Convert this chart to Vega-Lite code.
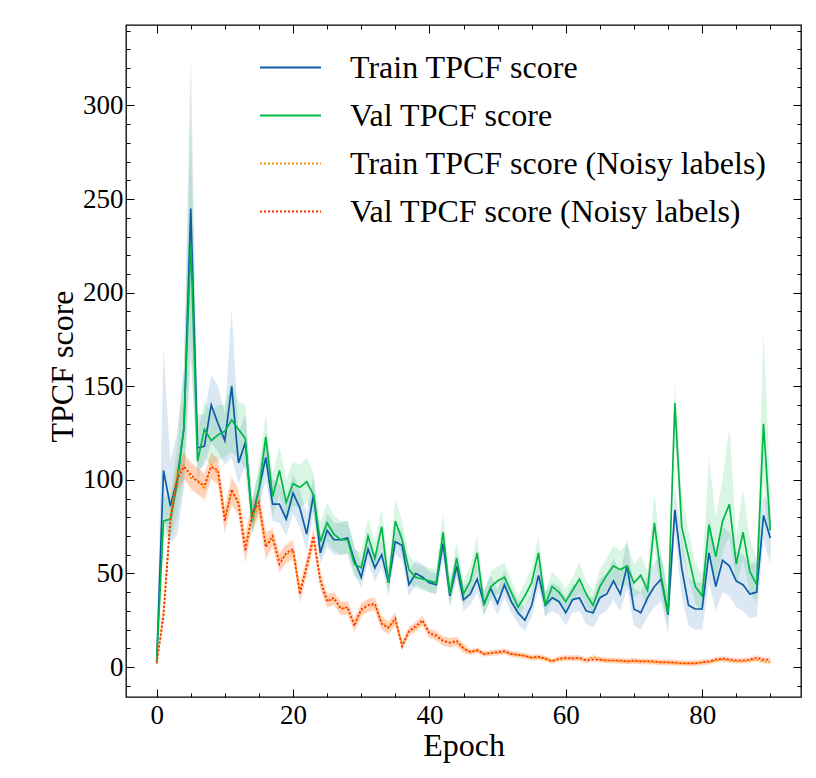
{
"$schema": "https://vega.github.io/schema/vega-lite/v6.json",
"width": 675, "height": 672,
"autosize": {"type": "none"},
"padding": {"left": 126, "top": 25, "right": 15, "bottom": 81},
"background": "white",
"config": {
  "view": {"stroke": "#000", "strokeWidth": 1.3},
  "font": "Liberation Serif",
  "axis": {"grid": false, "domain": false, "tickColor": "#000", "tickWidth": 1, "labelColor": "#000", "titleColor": "#000", "labelFont": "Liberation Serif", "titleFont": "Liberation Serif", "labelFontSize": 27, "titleFontSize": 32, "titleFontWeight": "normal", "labelOverlap": false, "labelFlush": false, "labelBound": false}
},
"data": {"values": [
{"epoch":0,"series":"T","score":3,"lo":1,"hi":5},
{"epoch":1,"series":"T","score":105,"lo":80,"hi":170},
{"epoch":2,"series":"T","score":86,"lo":66,"hi":110},
{"epoch":3,"series":"T","score":100,"lo":70,"hi":125},
{"epoch":4,"series":"T","score":128,"lo":95,"hi":160},
{"epoch":5,"series":"T","score":245,"lo":165,"hi":327},
{"epoch":6,"series":"T","score":117,"lo":105,"hi":135},
{"epoch":7,"series":"T","score":118,"lo":108,"hi":135},
{"epoch":8,"series":"T","score":140,"lo":120,"hi":156},
{"epoch":9,"series":"T","score":130,"lo":115,"hi":150},
{"epoch":10,"series":"T","score":121,"lo":108,"hi":135},
{"epoch":11,"series":"T","score":150,"lo":112,"hi":192},
{"epoch":12,"series":"T","score":109,"lo":98,"hi":125},
{"epoch":13,"series":"T","score":120,"lo":108,"hi":135},
{"epoch":14,"series":"T","score":80,"lo":72,"hi":90},
{"epoch":15,"series":"T","score":95,"lo":85,"hi":105},
{"epoch":16,"series":"T","score":112,"lo":100,"hi":125},
{"epoch":17,"series":"T","score":87,"lo":78,"hi":100},
{"epoch":18,"series":"T","score":87,"lo":77,"hi":98},
{"epoch":19,"series":"T","score":79,"lo":70,"hi":90},
{"epoch":20,"series":"T","score":93,"lo":82,"hi":103},
{"epoch":21,"series":"T","score":85,"lo":75,"hi":95},
{"epoch":22,"series":"T","score":71,"lo":62,"hi":82},
{"epoch":23,"series":"T","score":92,"lo":82,"hi":102},
{"epoch":24,"series":"T","score":61,"lo":55,"hi":70},
{"epoch":25,"series":"T","score":73,"lo":64,"hi":82},
{"epoch":26,"series":"T","score":68,"lo":60,"hi":77},
{"epoch":27,"series":"T","score":68,"lo":60,"hi":77},
{"epoch":28,"series":"T","score":69,"lo":61,"hi":78},
{"epoch":29,"series":"T","score":57,"lo":50,"hi":65},
{"epoch":30,"series":"T","score":48,"lo":42,"hi":56},
{"epoch":31,"series":"T","score":63,"lo":56,"hi":70},
{"epoch":32,"series":"T","score":53,"lo":46,"hi":60},
{"epoch":33,"series":"T","score":60,"lo":53,"hi":67},
{"epoch":34,"series":"T","score":45,"lo":39,"hi":52},
{"epoch":35,"series":"T","score":67,"lo":60,"hi":75},
{"epoch":36,"series":"T","score":65,"lo":57,"hi":73},
{"epoch":37,"series":"T","score":44,"lo":38,"hi":51},
{"epoch":38,"series":"T","score":50,"lo":44,"hi":57},
{"epoch":39,"series":"T","score":48,"lo":42,"hi":55},
{"epoch":40,"series":"T","score":45,"lo":40,"hi":51},
{"epoch":41,"series":"T","score":44,"lo":39,"hi":50},
{"epoch":42,"series":"T","score":66,"lo":58,"hi":74},
{"epoch":43,"series":"T","score":38,"lo":32,"hi":45},
{"epoch":44,"series":"T","score":54,"lo":47,"hi":61},
{"epoch":45,"series":"T","score":36,"lo":30,"hi":43},
{"epoch":46,"series":"T","score":39,"lo":33,"hi":46},
{"epoch":47,"series":"T","score":47,"lo":40,"hi":55},
{"epoch":48,"series":"T","score":34,"lo":28,"hi":41},
{"epoch":49,"series":"T","score":42,"lo":36,"hi":49},
{"epoch":50,"series":"T","score":34,"lo":28,"hi":41},
{"epoch":51,"series":"T","score":44,"lo":37,"hi":52},
{"epoch":52,"series":"T","score":35,"lo":29,"hi":42},
{"epoch":53,"series":"T","score":29,"lo":23,"hi":36},
{"epoch":54,"series":"T","score":25,"lo":19,"hi":32},
{"epoch":55,"series":"T","score":33,"lo":27,"hi":40},
{"epoch":56,"series":"T","score":49,"lo":42,"hi":57},
{"epoch":57,"series":"T","score":33,"lo":27,"hi":40},
{"epoch":58,"series":"T","score":37,"lo":30,"hi":45},
{"epoch":59,"series":"T","score":35,"lo":28,"hi":43},
{"epoch":60,"series":"T","score":29,"lo":22,"hi":37},
{"epoch":61,"series":"T","score":36,"lo":29,"hi":44},
{"epoch":62,"series":"T","score":37,"lo":30,"hi":45},
{"epoch":63,"series":"T","score":30,"lo":23,"hi":38},
{"epoch":64,"series":"T","score":29,"lo":21,"hi":37},
{"epoch":65,"series":"T","score":37,"lo":28,"hi":47},
{"epoch":66,"series":"T","score":39,"lo":30,"hi":50},
{"epoch":67,"series":"T","score":46,"lo":36,"hi":58},
{"epoch":68,"series":"T","score":39,"lo":30,"hi":50},
{"epoch":69,"series":"T","score":54,"lo":42,"hi":68},
{"epoch":70,"series":"T","score":31,"lo":22,"hi":42},
{"epoch":71,"series":"T","score":29,"lo":20,"hi":40},
{"epoch":72,"series":"T","score":37,"lo":27,"hi":48},
{"epoch":73,"series":"T","score":43,"lo":32,"hi":56},
{"epoch":74,"series":"T","score":47,"lo":35,"hi":60},
{"epoch":75,"series":"T","score":28,"lo":18,"hi":40},
{"epoch":76,"series":"T","score":84,"lo":72,"hi":95},
{"epoch":77,"series":"T","score":53,"lo":38,"hi":70},
{"epoch":78,"series":"T","score":33,"lo":22,"hi":48},
{"epoch":79,"series":"T","score":31,"lo":20,"hi":45},
{"epoch":80,"series":"T","score":31,"lo":20,"hi":45},
{"epoch":81,"series":"T","score":61,"lo":45,"hi":80},
{"epoch":82,"series":"T","score":43,"lo":30,"hi":60},
{"epoch":83,"series":"T","score":57,"lo":40,"hi":75},
{"epoch":84,"series":"T","score":54,"lo":38,"hi":72},
{"epoch":85,"series":"T","score":46,"lo":32,"hi":62},
{"epoch":86,"series":"T","score":44,"lo":30,"hi":60},
{"epoch":87,"series":"T","score":39,"lo":26,"hi":55},
{"epoch":88,"series":"T","score":40,"lo":27,"hi":56},
{"epoch":89,"series":"T","score":81,"lo":68,"hi":92},
{"epoch":90,"series":"T","score":69,"lo":55,"hi":85},
{"epoch":0,"series":"V","score":3,"lo":1,"hi":5},
{"epoch":1,"series":"V","score":78,"lo":70,"hi":90},
{"epoch":2,"series":"V","score":79,"lo":68,"hi":92},
{"epoch":3,"series":"V","score":98,"lo":80,"hi":118},
{"epoch":4,"series":"V","score":128,"lo":100,"hi":160},
{"epoch":5,"series":"V","score":226,"lo":175,"hi":290},
{"epoch":6,"series":"V","score":110,"lo":98,"hi":125},
{"epoch":7,"series":"V","score":127,"lo":112,"hi":142},
{"epoch":8,"series":"V","score":121,"lo":108,"hi":136},
{"epoch":9,"series":"V","score":124,"lo":110,"hi":140},
{"epoch":10,"series":"V","score":126,"lo":112,"hi":140},
{"epoch":11,"series":"V","score":132,"lo":115,"hi":152},
{"epoch":12,"series":"V","score":127,"lo":112,"hi":142},
{"epoch":13,"series":"V","score":122,"lo":105,"hi":140},
{"epoch":14,"series":"V","score":78,"lo":70,"hi":88},
{"epoch":15,"series":"V","score":95,"lo":85,"hi":108},
{"epoch":16,"series":"V","score":123,"lo":110,"hi":135},
{"epoch":17,"series":"V","score":91,"lo":80,"hi":103},
{"epoch":18,"series":"V","score":105,"lo":92,"hi":118},
{"epoch":19,"series":"V","score":88,"lo":78,"hi":100},
{"epoch":20,"series":"V","score":98,"lo":86,"hi":110},
{"epoch":21,"series":"V","score":96,"lo":85,"hi":108},
{"epoch":22,"series":"V","score":99,"lo":88,"hi":112},
{"epoch":23,"series":"V","score":92,"lo":82,"hi":104},
{"epoch":24,"series":"V","score":67,"lo":58,"hi":77},
{"epoch":25,"series":"V","score":77,"lo":67,"hi":88},
{"epoch":26,"series":"V","score":71,"lo":62,"hi":81},
{"epoch":27,"series":"V","score":68,"lo":60,"hi":78},
{"epoch":28,"series":"V","score":68,"lo":60,"hi":78},
{"epoch":29,"series":"V","score":55,"lo":48,"hi":63},
{"epoch":30,"series":"V","score":53,"lo":46,"hi":61},
{"epoch":31,"series":"V","score":70,"lo":62,"hi":80},
{"epoch":32,"series":"V","score":58,"lo":50,"hi":67},
{"epoch":33,"series":"V","score":75,"lo":66,"hi":85},
{"epoch":34,"series":"V","score":45,"lo":38,"hi":53},
{"epoch":35,"series":"V","score":78,"lo":68,"hi":90},
{"epoch":36,"series":"V","score":68,"lo":60,"hi":78},
{"epoch":37,"series":"V","score":52,"lo":45,"hi":60},
{"epoch":38,"series":"V","score":48,"lo":42,"hi":55},
{"epoch":39,"series":"V","score":47,"lo":41,"hi":54},
{"epoch":40,"series":"V","score":46,"lo":40,"hi":53},
{"epoch":41,"series":"V","score":45,"lo":39,"hi":52},
{"epoch":42,"series":"V","score":72,"lo":63,"hi":82},
{"epoch":43,"series":"V","score":39,"lo":33,"hi":46},
{"epoch":44,"series":"V","score":58,"lo":50,"hi":67},
{"epoch":45,"series":"V","score":39,"lo":33,"hi":46},
{"epoch":46,"series":"V","score":46,"lo":39,"hi":54},
{"epoch":47,"series":"V","score":61,"lo":52,"hi":70},
{"epoch":48,"series":"V","score":33,"lo":27,"hi":40},
{"epoch":49,"series":"V","score":43,"lo":37,"hi":51},
{"epoch":50,"series":"V","score":46,"lo":39,"hi":54},
{"epoch":51,"series":"V","score":48,"lo":41,"hi":56},
{"epoch":52,"series":"V","score":40,"lo":34,"hi":47},
{"epoch":53,"series":"V","score":32,"lo":27,"hi":38},
{"epoch":54,"series":"V","score":38,"lo":32,"hi":45},
{"epoch":55,"series":"V","score":45,"lo":38,"hi":53},
{"epoch":56,"series":"V","score":61,"lo":52,"hi":70},
{"epoch":57,"series":"V","score":33,"lo":27,"hi":40},
{"epoch":58,"series":"V","score":43,"lo":36,"hi":51},
{"epoch":59,"series":"V","score":40,"lo":34,"hi":47},
{"epoch":60,"series":"V","score":35,"lo":29,"hi":42},
{"epoch":61,"series":"V","score":41,"lo":35,"hi":48},
{"epoch":62,"series":"V","score":47,"lo":40,"hi":56},
{"epoch":63,"series":"V","score":39,"lo":33,"hi":46},
{"epoch":64,"series":"V","score":33,"lo":27,"hi":41},
{"epoch":65,"series":"V","score":43,"lo":36,"hi":52},
{"epoch":66,"series":"V","score":49,"lo":41,"hi":58},
{"epoch":67,"series":"V","score":54,"lo":45,"hi":65},
{"epoch":68,"series":"V","score":52,"lo":43,"hi":62},
{"epoch":69,"series":"V","score":54,"lo":44,"hi":66},
{"epoch":70,"series":"V","score":45,"lo":37,"hi":55},
{"epoch":71,"series":"V","score":49,"lo":40,"hi":60},
{"epoch":72,"series":"V","score":41,"lo":33,"hi":51},
{"epoch":73,"series":"V","score":77,"lo":64,"hi":93},
{"epoch":74,"series":"V","score":48,"lo":38,"hi":60},
{"epoch":75,"series":"V","score":29,"lo":22,"hi":38},
{"epoch":76,"series":"V","score":141,"lo":125,"hi":152},
{"epoch":77,"series":"V","score":75,"lo":62,"hi":92},
{"epoch":78,"series":"V","score":59,"lo":48,"hi":73},
{"epoch":79,"series":"V","score":43,"lo":34,"hi":55},
{"epoch":80,"series":"V","score":38,"lo":30,"hi":50},
{"epoch":81,"series":"V","score":76,"lo":60,"hi":112},
{"epoch":82,"series":"V","score":59,"lo":45,"hi":80},
{"epoch":83,"series":"V","score":78,"lo":62,"hi":100},
{"epoch":84,"series":"V","score":87,"lo":70,"hi":128},
{"epoch":85,"series":"V","score":55,"lo":44,"hi":70},
{"epoch":86,"series":"V","score":72,"lo":57,"hi":95},
{"epoch":87,"series":"V","score":51,"lo":40,"hi":68},
{"epoch":88,"series":"V","score":44,"lo":34,"hi":58},
{"epoch":89,"series":"V","score":130,"lo":100,"hi":180},
{"epoch":90,"series":"V","score":73,"lo":58,"hi":95},
{"epoch":0,"series":"TN","score":2,"lo":1,"hi":3},
{"epoch":1,"series":"TN","score":30,"lo":25,"hi":35},
{"epoch":2,"series":"TN","score":80,"lo":72,"hi":88},
{"epoch":3,"series":"TN","score":103,"lo":96,"hi":110},
{"epoch":4,"series":"TN","score":108,"lo":101,"hi":115},
{"epoch":5,"series":"TN","score":101,"lo":94,"hi":108},
{"epoch":6,"series":"TN","score":100,"lo":93,"hi":107},
{"epoch":7,"series":"TN","score":95,"lo":88,"hi":102},
{"epoch":8,"series":"TN","score":108,"lo":101,"hi":115},
{"epoch":9,"series":"TN","score":103,"lo":96,"hi":110},
{"epoch":10,"series":"TN","score":80,"lo":73,"hi":87},
{"epoch":11,"series":"TN","score":93,"lo":86,"hi":100},
{"epoch":12,"series":"TN","score":89,"lo":82,"hi":96},
{"epoch":13,"series":"TN","score":65,"lo":58,"hi":72},
{"epoch":14,"series":"TN","score":80,"lo":73,"hi":87},
{"epoch":15,"series":"TN","score":86,"lo":79,"hi":93},
{"epoch":16,"series":"TN","score":66,"lo":59,"hi":73},
{"epoch":17,"series":"TN","score":68,"lo":63,"hi":73},
{"epoch":18,"series":"TN","score":57,"lo":52,"hi":62},
{"epoch":19,"series":"TN","score":60,"lo":55,"hi":65},
{"epoch":20,"series":"TN","score":62,"lo":57,"hi":67},
{"epoch":21,"series":"TN","score":41,"lo":36,"hi":46},
{"epoch":22,"series":"TN","score":53,"lo":48,"hi":58},
{"epoch":23,"series":"TN","score":68,"lo":63,"hi":73},
{"epoch":24,"series":"TN","score":47,"lo":42,"hi":52},
{"epoch":25,"series":"TN","score":36,"lo":32.5,"hi":39.5},
{"epoch":26,"series":"TN","score":36,"lo":32.5,"hi":39.5},
{"epoch":27,"series":"TN","score":32,"lo":28.5,"hi":35.5},
{"epoch":28,"series":"TN","score":31,"lo":27.5,"hi":34.5},
{"epoch":29,"series":"TN","score":23,"lo":19.5,"hi":26.5},
{"epoch":30,"series":"TN","score":30,"lo":26.5,"hi":33.5},
{"epoch":31,"series":"TN","score":33,"lo":29.5,"hi":36.5},
{"epoch":32,"series":"TN","score":33,"lo":29.5,"hi":36.5},
{"epoch":33,"series":"TN","score":24,"lo":20.5,"hi":27.5},
{"epoch":34,"series":"TN","score":21,"lo":17.5,"hi":24.5},
{"epoch":35,"series":"TN","score":25,"lo":21.5,"hi":28.5},
{"epoch":36,"series":"TN","score":12,"lo":9.5,"hi":14.5},
{"epoch":37,"series":"TN","score":19,"lo":16.5,"hi":21.5},
{"epoch":38,"series":"TN","score":21,"lo":18.5,"hi":23.5},
{"epoch":39,"series":"TN","score":24,"lo":21.5,"hi":26.5},
{"epoch":40,"series":"TN","score":18,"lo":15.5,"hi":20.5},
{"epoch":41,"series":"TN","score":16,"lo":13.5,"hi":18.5},
{"epoch":42,"series":"TN","score":14,"lo":11.5,"hi":16.5},
{"epoch":43,"series":"TN","score":13,"lo":10.5,"hi":15.5},
{"epoch":44,"series":"TN","score":13,"lo":10.5,"hi":15.5},
{"epoch":45,"series":"TN","score":10,"lo":7.5,"hi":12.5},
{"epoch":46,"series":"TN","score":8,"lo":6.5,"hi":9.5},
{"epoch":47,"series":"TN","score":9,"lo":7.5,"hi":10.5},
{"epoch":48,"series":"TN","score":7,"lo":5.5,"hi":8.5},
{"epoch":49,"series":"TN","score":7.5,"lo":6,"hi":9},
{"epoch":50,"series":"TN","score":7.5,"lo":6,"hi":9},
{"epoch":51,"series":"TN","score":8,"lo":6.5,"hi":9.5},
{"epoch":52,"series":"TN","score":7,"lo":5.5,"hi":8.5},
{"epoch":53,"series":"TN","score":6.5,"lo":5,"hi":8},
{"epoch":54,"series":"TN","score":6,"lo":4.5,"hi":7.5},
{"epoch":55,"series":"TN","score":5,"lo":3.5,"hi":6.5},
{"epoch":56,"series":"TN","score":5,"lo":3.5,"hi":6.5},
{"epoch":57,"series":"TN","score":4.5,"lo":3,"hi":6},
{"epoch":58,"series":"TN","score":3.5,"lo":2,"hi":5},
{"epoch":59,"series":"TN","score":4,"lo":2.5,"hi":5.5},
{"epoch":60,"series":"TN","score":4.5,"lo":3,"hi":6},
{"epoch":61,"series":"TN","score":5,"lo":3.5,"hi":6.5},
{"epoch":62,"series":"TN","score":4.5,"lo":3,"hi":6},
{"epoch":63,"series":"TN","score":3.5,"lo":2,"hi":5},
{"epoch":64,"series":"TN","score":5.5,"lo":4,"hi":7},
{"epoch":65,"series":"TN","score":4,"lo":2.5,"hi":5.5},
{"epoch":66,"series":"TN","score":3.5,"lo":2,"hi":5},
{"epoch":67,"series":"TN","score":3.5,"lo":2,"hi":5},
{"epoch":68,"series":"TN","score":3,"lo":1.5,"hi":4.5},
{"epoch":69,"series":"TN","score":3,"lo":1.5,"hi":4.5},
{"epoch":70,"series":"TN","score":3,"lo":1.5,"hi":4.5},
{"epoch":71,"series":"TN","score":3,"lo":1.5,"hi":4.5},
{"epoch":72,"series":"TN","score":3,"lo":1.5,"hi":4.5},
{"epoch":73,"series":"TN","score":2.5,"lo":1,"hi":4},
{"epoch":74,"series":"TN","score":2.5,"lo":1,"hi":4},
{"epoch":75,"series":"TN","score":2.5,"lo":1,"hi":4},
{"epoch":76,"series":"TN","score":2,"lo":0.5,"hi":3.5},
{"epoch":77,"series":"TN","score":2,"lo":0.5,"hi":3.5},
{"epoch":78,"series":"TN","score":2,"lo":0.5,"hi":3.5},
{"epoch":79,"series":"TN","score":2,"lo":0.5,"hi":3.5},
{"epoch":80,"series":"TN","score":2.5,"lo":1,"hi":4},
{"epoch":81,"series":"TN","score":2.5,"lo":1,"hi":4},
{"epoch":82,"series":"TN","score":3.5,"lo":2,"hi":5},
{"epoch":83,"series":"TN","score":4,"lo":2.5,"hi":5.5},
{"epoch":84,"series":"TN","score":3.5,"lo":2,"hi":5},
{"epoch":85,"series":"TN","score":3,"lo":1.5,"hi":4.5},
{"epoch":86,"series":"TN","score":3,"lo":1.5,"hi":4.5},
{"epoch":87,"series":"TN","score":3.5,"lo":2,"hi":5},
{"epoch":88,"series":"TN","score":4,"lo":2.5,"hi":5.5},
{"epoch":89,"series":"TN","score":3,"lo":1.5,"hi":4.5},
{"epoch":90,"series":"TN","score":2.5,"lo":1,"hi":4},
{"epoch":0,"series":"VN","score":2,"lo":1,"hi":3},
{"epoch":1,"series":"VN","score":27,"lo":22,"hi":32},
{"epoch":2,"series":"VN","score":78,"lo":70,"hi":86},
{"epoch":3,"series":"VN","score":100,"lo":93,"hi":107},
{"epoch":4,"series":"VN","score":107,"lo":100,"hi":114},
{"epoch":5,"series":"VN","score":103,"lo":96,"hi":110},
{"epoch":6,"series":"VN","score":99,"lo":92,"hi":106},
{"epoch":7,"series":"VN","score":97,"lo":90,"hi":104},
{"epoch":8,"series":"VN","score":107,"lo":100,"hi":114},
{"epoch":9,"series":"VN","score":105,"lo":98,"hi":112},
{"epoch":10,"series":"VN","score":78,"lo":71,"hi":85},
{"epoch":11,"series":"VN","score":95,"lo":88,"hi":102},
{"epoch":12,"series":"VN","score":87,"lo":80,"hi":94},
{"epoch":13,"series":"VN","score":62,"lo":55,"hi":69},
{"epoch":14,"series":"VN","score":82,"lo":75,"hi":89},
{"epoch":15,"series":"VN","score":88,"lo":81,"hi":95},
{"epoch":16,"series":"VN","score":64,"lo":57,"hi":71},
{"epoch":17,"series":"VN","score":70,"lo":65,"hi":75},
{"epoch":18,"series":"VN","score":55,"lo":50,"hi":60},
{"epoch":19,"series":"VN","score":61,"lo":56,"hi":66},
{"epoch":20,"series":"VN","score":63,"lo":58,"hi":68},
{"epoch":21,"series":"VN","score":39,"lo":34,"hi":44},
{"epoch":22,"series":"VN","score":54,"lo":49,"hi":59},
{"epoch":23,"series":"VN","score":70,"lo":65,"hi":75},
{"epoch":24,"series":"VN","score":46,"lo":41,"hi":51},
{"epoch":25,"series":"VN","score":35,"lo":31.5,"hi":38.5},
{"epoch":26,"series":"VN","score":37,"lo":33.5,"hi":40.5},
{"epoch":27,"series":"VN","score":31,"lo":27.5,"hi":34.5},
{"epoch":28,"series":"VN","score":32,"lo":28.5,"hi":35.5},
{"epoch":29,"series":"VN","score":22,"lo":18.5,"hi":25.5},
{"epoch":30,"series":"VN","score":31,"lo":27.5,"hi":34.5},
{"epoch":31,"series":"VN","score":33,"lo":29.5,"hi":36.5},
{"epoch":32,"series":"VN","score":34,"lo":30.5,"hi":37.5},
{"epoch":33,"series":"VN","score":23,"lo":19.5,"hi":26.5},
{"epoch":34,"series":"VN","score":21,"lo":17.5,"hi":24.5},
{"epoch":35,"series":"VN","score":26,"lo":22.5,"hi":29.5},
{"epoch":36,"series":"VN","score":11,"lo":8.5,"hi":13.5},
{"epoch":37,"series":"VN","score":19,"lo":16.5,"hi":21.5},
{"epoch":38,"series":"VN","score":22,"lo":19.5,"hi":24.5},
{"epoch":39,"series":"VN","score":25,"lo":22.5,"hi":27.5},
{"epoch":40,"series":"VN","score":18,"lo":15.5,"hi":20.5},
{"epoch":41,"series":"VN","score":17,"lo":14.5,"hi":19.5},
{"epoch":42,"series":"VN","score":14,"lo":11.5,"hi":16.5},
{"epoch":43,"series":"VN","score":13,"lo":10.5,"hi":15.5},
{"epoch":44,"series":"VN","score":14,"lo":11.5,"hi":16.5},
{"epoch":45,"series":"VN","score":10,"lo":7.5,"hi":12.5},
{"epoch":46,"series":"VN","score":8,"lo":6.5,"hi":9.5},
{"epoch":47,"series":"VN","score":9,"lo":7.5,"hi":10.5},
{"epoch":48,"series":"VN","score":7,"lo":5.5,"hi":8.5},
{"epoch":49,"series":"VN","score":7.5,"lo":6,"hi":9},
{"epoch":50,"series":"VN","score":8,"lo":6.5,"hi":9.5},
{"epoch":51,"series":"VN","score":8.5,"lo":7,"hi":10},
{"epoch":52,"series":"VN","score":7,"lo":5.5,"hi":8.5},
{"epoch":53,"series":"VN","score":6.5,"lo":5,"hi":8},
{"epoch":54,"series":"VN","score":6,"lo":4.5,"hi":7.5},
{"epoch":55,"series":"VN","score":5,"lo":3.5,"hi":6.5},
{"epoch":56,"series":"VN","score":5.5,"lo":4,"hi":7},
{"epoch":57,"series":"VN","score":4.5,"lo":3,"hi":6},
{"epoch":58,"series":"VN","score":3,"lo":1.5,"hi":4.5},
{"epoch":59,"series":"VN","score":4.5,"lo":3,"hi":6},
{"epoch":60,"series":"VN","score":5,"lo":3.5,"hi":6.5},
{"epoch":61,"series":"VN","score":4.5,"lo":3,"hi":6},
{"epoch":62,"series":"VN","score":5,"lo":3.5,"hi":6.5},
{"epoch":63,"series":"VN","score":3.5,"lo":2,"hi":5},
{"epoch":64,"series":"VN","score":4,"lo":2.5,"hi":5.5},
{"epoch":65,"series":"VN","score":4,"lo":2.5,"hi":5.5},
{"epoch":66,"series":"VN","score":3.5,"lo":2,"hi":5},
{"epoch":67,"series":"VN","score":3.5,"lo":2,"hi":5},
{"epoch":68,"series":"VN","score":3.5,"lo":2,"hi":5},
{"epoch":69,"series":"VN","score":3,"lo":1.5,"hi":4.5},
{"epoch":70,"series":"VN","score":3.5,"lo":2,"hi":5},
{"epoch":71,"series":"VN","score":3,"lo":1.5,"hi":4.5},
{"epoch":72,"series":"VN","score":3,"lo":1.5,"hi":4.5},
{"epoch":73,"series":"VN","score":3,"lo":1.5,"hi":4.5},
{"epoch":74,"series":"VN","score":2.5,"lo":1,"hi":4},
{"epoch":75,"series":"VN","score":2.5,"lo":1,"hi":4},
{"epoch":76,"series":"VN","score":2.5,"lo":1,"hi":4},
{"epoch":77,"series":"VN","score":2,"lo":0.5,"hi":3.5},
{"epoch":78,"series":"VN","score":2,"lo":0.5,"hi":3.5},
{"epoch":79,"series":"VN","score":2,"lo":0.5,"hi":3.5},
{"epoch":80,"series":"VN","score":2.5,"lo":1,"hi":4},
{"epoch":81,"series":"VN","score":3,"lo":1.5,"hi":4.5},
{"epoch":82,"series":"VN","score":4,"lo":2.5,"hi":5.5},
{"epoch":83,"series":"VN","score":4.5,"lo":3,"hi":6},
{"epoch":84,"series":"VN","score":4,"lo":2.5,"hi":5.5},
{"epoch":85,"series":"VN","score":3.5,"lo":2,"hi":5},
{"epoch":86,"series":"VN","score":3.5,"lo":2,"hi":5},
{"epoch":87,"series":"VN","score":4,"lo":2.5,"hi":5.5},
{"epoch":88,"series":"VN","score":5,"lo":3.5,"hi":6.5},
{"epoch":89,"series":"VN","score":4,"lo":2.5,"hi":5.5},
{"epoch":90,"series":"VN","score":4,"lo":2.5,"hi":5.5}
]},
"layer": [
 {
  "mark": {"type": "area", "fillOpacity": 0.15, "clip": true},
  "encoding": {
   "x": {"field": "epoch", "type": "quantitative", "scale": {"domain": [-4.5, 94.5], "nice": false, "zero": false},
     "axis": {"orient": "bottom", "values": [0,5,10,15,20,25,30,35,40,45,50,55,60,65,70,75,80,85,90],
       "tickSize": {"condition": {"test": "datum.value % 20 === 0", "value": -8}, "value": -4},
       "labelExpr": "datum.value % 20 === 0 ? datum.label : ''", "labelPadding": 13,
       "title": "Epoch", "titleBaseline": "alphabetic", "titleY": 58}},
   "y": {"field": "lo", "type": "quantitative", "scale": {"domain": [-16, 343], "nice": false, "zero": false},
     "axis": {"orient": "left", "values": [-10,0,10,20,30,40,50,60,70,80,90,100,110,120,130,140,150,160,170,180,190,200,210,220,230,240,250,260,270,280,290,300,310,320,330,340],
       "tickSize": {"condition": {"test": "datum.value % 50 === 0", "value": -8}, "value": -4},
       "labelExpr": "datum.value % 50 === 0 ? datum.label : ''", "labelPadding": 11,
       "title": "TPCF score", "titleBaseline": "alphabetic", "titleX": -54, "titleY": 341, "titleAlign": "center"}},
   "y2": {"field": "hi"},
   "fill": {"field": "series", "type": "nominal", "scale": {"domain": ["VN","TN","V","T"], "range": ["#FF2C00","#FF9500","#00B945","#0C5DA5"]}, "legend": null}
  }
 },
 {
  "mark": {"type": "line", "strokeWidth": 1.7, "clip": true},
  "encoding": {
   "x": {"field": "epoch", "type": "quantitative", "scale": {"domain": [-4.5, 94.5], "nice": false, "zero": false},
     "axis": {"orient": "top", "values": [0,5,10,15,20,25,30,35,40,45,50,55,60,65,70,75,80,85,90],
       "tickSize": {"condition": {"test": "datum.value % 20 === 0", "value": -8}, "value": -4},
       "labels": false, "title": null}},
   "y": {"field": "score", "type": "quantitative", "scale": {"domain": [-16, 343], "nice": false, "zero": false},
     "axis": {"orient": "right", "values": [-10,0,10,20,30,40,50,60,70,80,90,100,110,120,130,140,150,160,170,180,190,200,210,220,230,240,250,260,270,280,290,300,310,320,330,340],
       "tickSize": {"condition": {"test": "datum.value % 50 === 0", "value": -8}, "value": -4},
       "labels": false, "title": null}},
   "color": {"field": "series", "type": "nominal", "scale": {"domain": ["T","V","TN","VN"], "range": ["#0C5DA5","#00B945","#FF9500","#FF2C00"]},
     "legend": {"title": null, "orient": "none", "legendX": 133, "legendY": 11, "padding": 0, "symbolType": "stroke", "symbolSize": 3721, "symbolStrokeWidth": 2, "labelFont": "Liberation Serif", "labelFontSize": 32, "labelColor": "#000", "labelOffset": 28, "rowPadding": 0, "labelLimit": 800,
       "labelExpr": "datum.label == 'T' ? 'Train TPCF score' : datum.label == 'V' ? 'Val TPCF score' : datum.label == 'TN' ? 'Train TPCF score (Noisy labels)' : 'Val TPCF score (Noisy labels)'"}},
   "strokeDash": {"field": "series", "type": "nominal", "scale": {"domain": ["T","V","TN","VN"], "range": [[1,0],[1,0],[2,2],[2,2]]},
     "legend": {"title": null, "orient": "none", "legendX": 133, "legendY": 11, "padding": 0, "symbolType": "stroke", "symbolSize": 3721, "symbolStrokeWidth": 2, "labelFont": "Liberation Serif", "labelFontSize": 32, "labelColor": "#000", "labelOffset": 28, "rowPadding": 0, "labelLimit": 800,
       "labelExpr": "datum.label == 'T' ? 'Train TPCF score' : datum.label == 'V' ? 'Val TPCF score' : datum.label == 'TN' ? 'Train TPCF score (Noisy labels)' : 'Val TPCF score (Noisy labels)'"}}
  }
 }
],
"resolve": {"axis": {"x": "independent", "y": "independent"}}
}
